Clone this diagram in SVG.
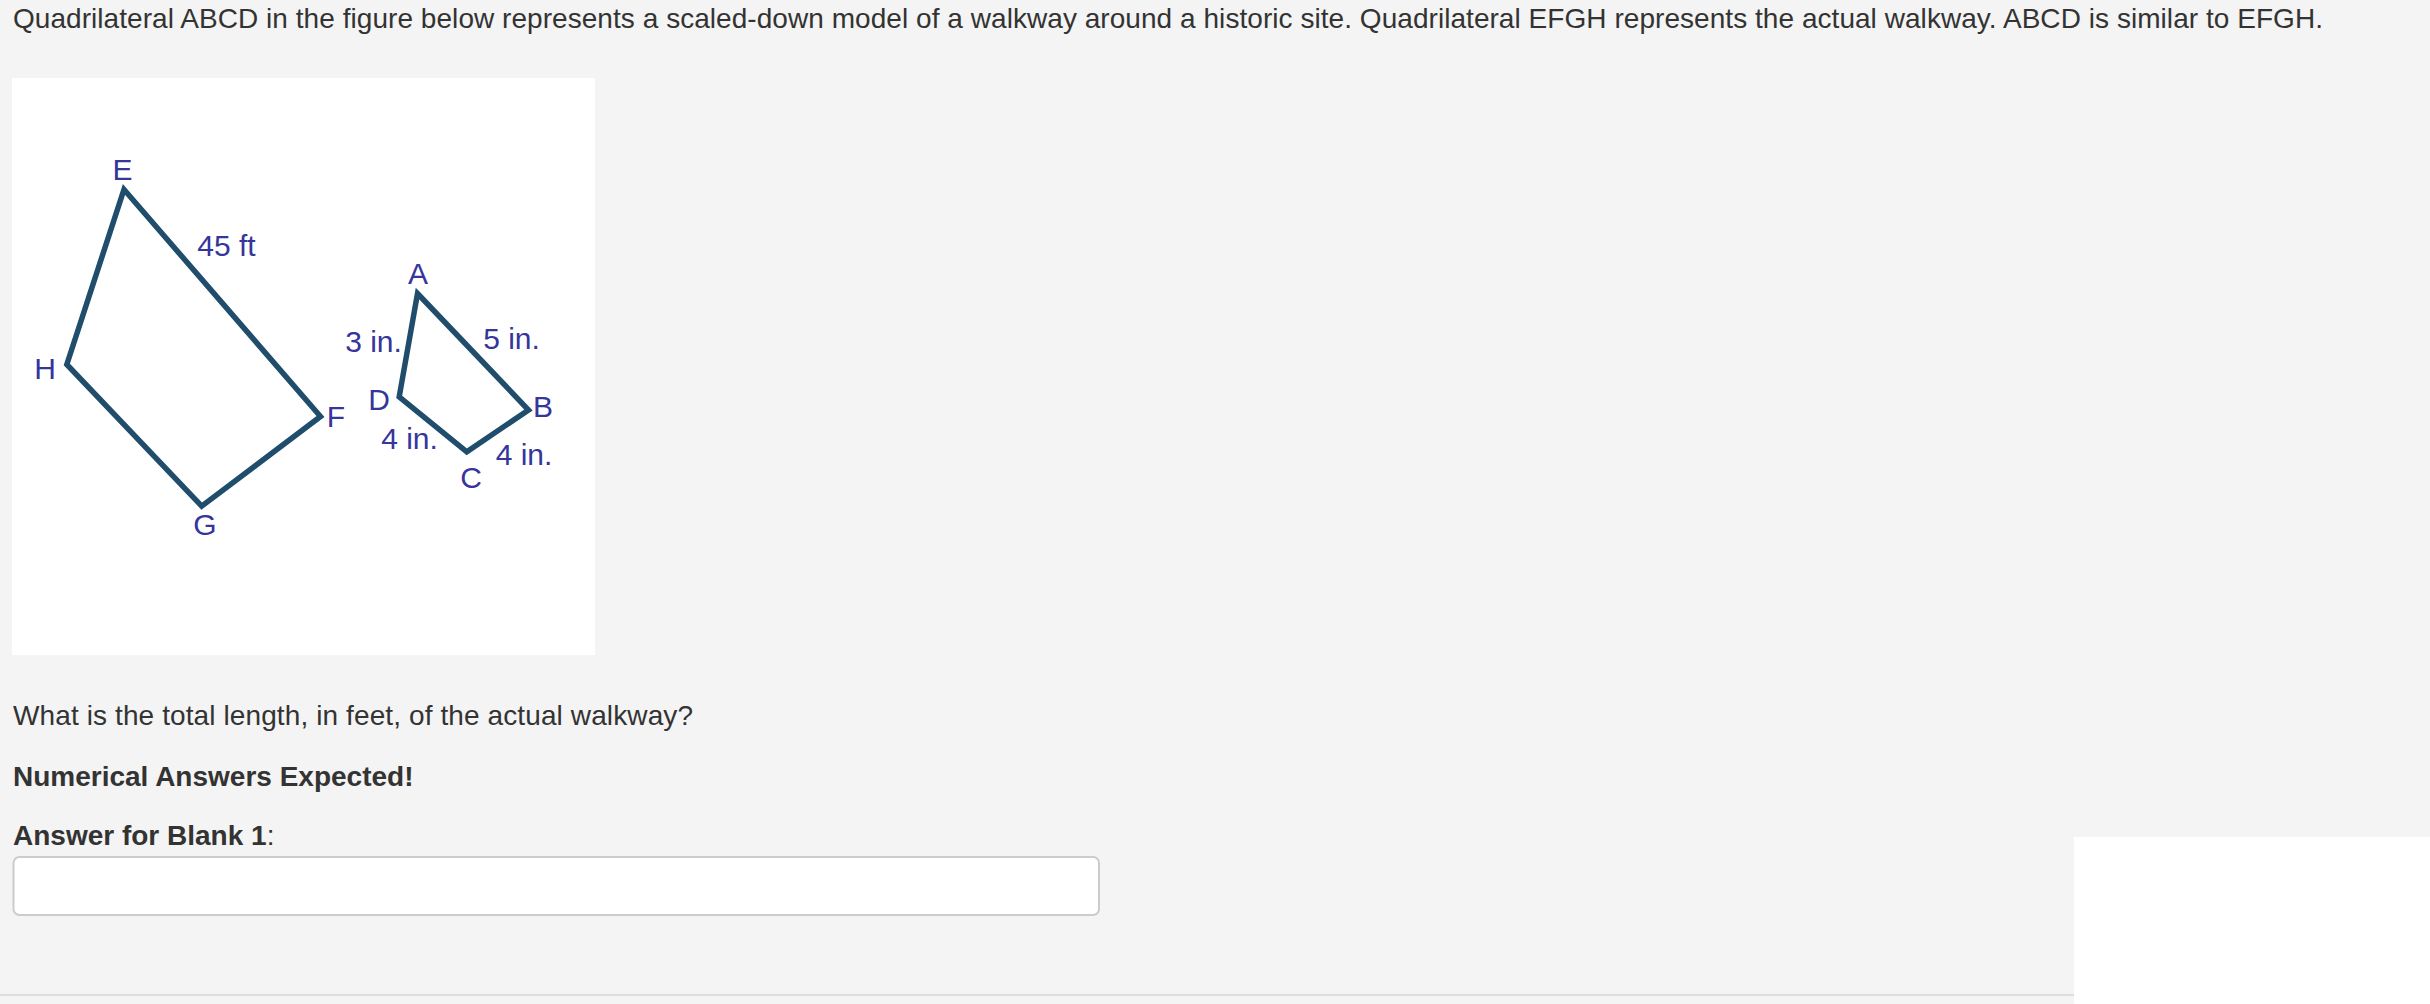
<svg xmlns="http://www.w3.org/2000/svg" width="2430" height="1004" viewBox="0 0 2430 1004">
<style>
.txt{font-family:"Liberation Sans",Arial,Helvetica,sans-serif;font-size:28px;fill:#333333}
.b{font-weight:bold}
.lbl{font-family:"Liberation Sans",Arial,Helvetica,sans-serif;font-size:30px;fill:#35359c;text-anchor:middle}
.edge{fill:none;stroke:#1f4d6b;stroke-width:5.5;stroke-linejoin:miter}
</style>
<rect x="0" y="0" width="2430" height="1004" fill="#f4f4f4"/>
<rect x="2074" y="837" width="356" height="167" fill="#ffffff"/>
<rect x="0" y="994" width="2074" height="2" fill="#dedede"/>
<text class="txt" x="13" y="28" textLength="2310" lengthAdjust="spacing">Quadrilateral ABCD in the figure below represents a scaled-down model of a walkway around a historic site. Quadrilateral EFGH represents the actual walkway. ABCD is similar to EFGH.</text>
<g id="figure">
<rect x="12" y="78" width="583" height="577" fill="#ffffff"/>
<g id="connectors">
<polygon id="EFGH" class="edge" points="124,189.5 320.5,416.5 201.7,506.2 66.8,364.5"/>
<polygon id="ABCD" class="edge" points="417.5,293.5 528.5,410 466.8,451.8 399.2,396.8"/>
</g>
<g id="node-E"><text class="lbl" x="122.5" y="180">E</text></g>
<g id="node-F"><text class="lbl" x="336" y="427">F</text></g>
<g id="node-G"><text class="lbl" x="205" y="535">G</text></g>
<g id="node-H"><text class="lbl" x="45" y="379">H</text></g>
<g id="node-A"><text class="lbl" x="418" y="283.5">A</text></g>
<g id="node-B"><text class="lbl" x="543" y="416.5">B</text></g>
<g id="node-C"><text class="lbl" x="471" y="488">C</text></g>
<g id="node-D"><text class="lbl" x="379" y="409.5">D</text></g>
<g id="labels">
<text class="lbl" x="226.5" y="256">45 ft</text>
<text class="lbl" x="373.5" y="352">3 in.</text>
<text class="lbl" x="511.5" y="349">5 in.</text>
<text class="lbl" x="409.5" y="449">4 in.</text>
<text class="lbl" x="524" y="464.5">4 in.</text>
</g>
</g>
<text class="txt" x="13" y="725" textLength="680" lengthAdjust="spacing">What is the total length, in feet, of the actual walkway?</text>
<text class="txt b" x="13" y="786">Numerical Answers Expected!</text>
<text class="txt" x="13" y="845"><tspan class="b">Answer for Blank 1</tspan>:</text>
<rect x="13.5" y="857" width="1085.5" height="58" rx="6" ry="6" fill="#ffffff" stroke="#cccccc" stroke-width="2"/>
</svg>
